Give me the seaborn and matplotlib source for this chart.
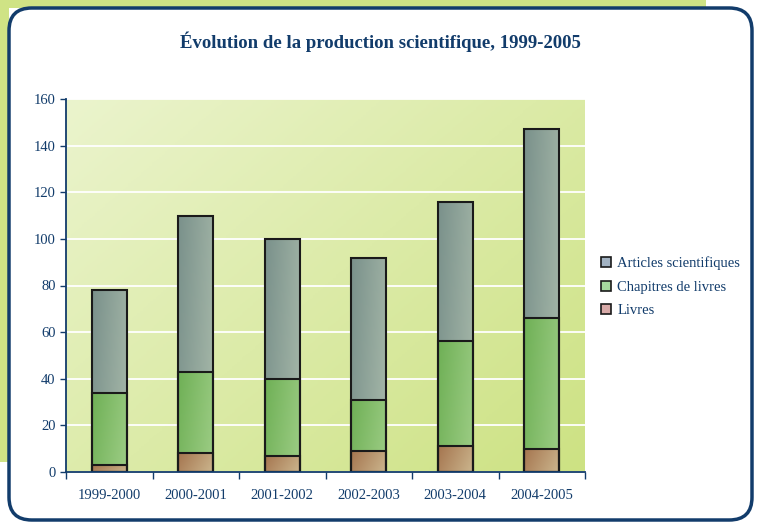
import matplotlib.pyplot as plt
import seaborn as sns
import numpy as np
import pandas as pd
from matplotlib.patches import Rectangle, FancyBboxPatch
from matplotlib.colors import LinearSegmentedColormap

sns.set_style("white")
plt.rcParams["font.family"] = ["Liberation Serif", "DejaVu Serif"]

# data
periods = ["1999-2000", "2000-2001", "2001-2002", "2002-2003", "2003-2004", "2004-2005"]
livres = [3, 8, 7, 9, 11, 10]
chapitres = [31, 35, 33, 22, 45, 56]
articles = [44, 67, 60, 61, 60, 81]
series_names = ["Articles scientifiques", "Chapitres de livres", "Livres"]
yticks = [0, 20, 40, 60, 80, 100, 120, 140, 160]

navy = "#123c6b"
# (dark corner, light corner) for the gradient fill of each series
grad = {
    "Articles scientifiques": ("#7a918b", "#a6b8a9"),
    "Chapitres de livres": ("#6fb056", "#9dcd85"),
    "Livres": ("#a5754f", "#cbb58d"),
}
legend_colors = {
    "Articles scientifiques": "#a2b2c2",
    "Chapitres de livres": "#a6d89e",
    "Livres": "#d8aaa8",
}

df = pd.DataFrame({"period": periods, "Livres": livres,
                   "Chapitres de livres": chapitres, "Articles scientifiques": articles})
df["cum_livres"] = df["Livres"]
df["cum_chap"] = df["Livres"] + df["Chapitres de livres"]
df["cum_art"] = df["cum_chap"] + df["Articles scientifiques"]

fig = plt.figure(figsize=(7.58, 5.23), dpi=100)
fig.patch.set_facecolor("white")

# page decoration: green bands behind the rounded white card
fig.add_artist(Rectangle((0, 1 - 8 / 523), 706 / 758, 8 / 523, transform=fig.transFigure,
                         facecolor="#cfe385", edgecolor="none", zorder=0))
fig.add_artist(Rectangle((0, 1 - 462 / 523), 9 / 758, 462 / 523, transform=fig.transFigure,
                         facecolor="#cfe385", edgecolor="none", zorder=0))
fig.add_artist(FancyBboxPatch((9 / 758, 3 / 523), 743 / 758, 512 / 523,
                              boxstyle="round,pad=0,rounding_size=0.03",
                              transform=fig.transFigure, facecolor="white",
                              edgecolor=navy, linewidth=2.5, zorder=1,
                              mutation_aspect=758 / 523))

ax = fig.add_axes([66 / 758, 51 / 523, 519 / 758, 373 / 523])
ax.set_zorder(2)
ax.patch.set_alpha(0)

# gradient background of plotting area
bg = LinearSegmentedColormap.from_list("bg", ["#ebf4cd", "#cde283"])
gx, gy = np.meshgrid(np.linspace(0, 1, 200), np.linspace(0, 1, 200))
ax.imshow(0.55 * gx + 0.45 * gy, cmap=bg, extent=[0, 1, 0, 1], transform=ax.transAxes,
          aspect="auto", origin="upper", zorder=0)

layers = [("cum_art", "Articles scientifiques"), ("cum_chap", "Chapitres de livres"),
          ("cum_livres", "Livres")]
for col, name in layers:
    n_before = len(ax.patches)
    sns.barplot(data=df, x="period", y=col, ax=ax, width=0.4, color=grad[name][1],
                edgecolor="#1a1a1a", linewidth=1.5, zorder=3)
    cmap = LinearSegmentedColormap.from_list(name, list(grad[name]))
    for p in ax.patches[n_before:]:
        x0, y0 = p.get_x(), p.get_y()
        w, h = p.get_width(), p.get_height()
        bx, by = np.meshgrid(np.linspace(0, 1, 40), np.linspace(0, 1, 120))
        im = ax.imshow(0.75 * bx + 0.25 * by, cmap=cmap, aspect="auto", origin="upper",
                       extent=[x0, x0 + w, y0, y0 + h], zorder=3.05)
        im.set_clip_path(p)
        p.set_facecolor("none")
        p.set_zorder(3.1)

ax.set_xlim(-0.5, len(periods) - 0.5)
ax.set_ylim(0, 160)
ax.set_yticks(yticks)
ax.yaxis.grid(True, color="white", linewidth=1.3, zorder=1)
ax.set_axisbelow(True)
ax.set_xlabel("")
ax.set_ylabel("")

for s in ["top", "right"]:
    ax.spines[s].set_visible(False)
for s in ["left", "bottom"]:
    ax.spines[s].set_color(navy)
    ax.spines[s].set_linewidth(1.3)
    ax.spines[s].set_zorder(4)

ax.tick_params(axis="y", colors=navy, labelsize=10.5, length=4, width=1, direction="out", left=True)
ax.tick_params(axis="x", which="major", colors=navy, labelsize=10.5, length=0, pad=12)
ax.set_xticks(np.arange(-0.5, len(periods), 1.0), minor=True)
ax.tick_params(axis="x", which="minor", color=navy, length=5, width=1, direction="out", bottom=True)

fig.text(380 / 758, 1 - 42 / 523, "Évolution de la production scientifique, 1999-2005",
         ha="center", va="center", fontsize=13.5, fontweight="bold", color=navy)

handles = [Rectangle((0, 0), 1, 1, facecolor=legend_colors[n], edgecolor="#1a1a1a", linewidth=1.2)
           for n in series_names]
fig.legend(handles, series_names, loc="center left", bbox_to_anchor=(588 / 758, 1 - 287 / 523),
           frameon=False, fontsize=10.5, handlelength=0.7, handleheight=0.7, handletextpad=0.4,
           labelspacing=0.7, labelcolor=navy)

fig.savefig("out.png", dpi=100)
